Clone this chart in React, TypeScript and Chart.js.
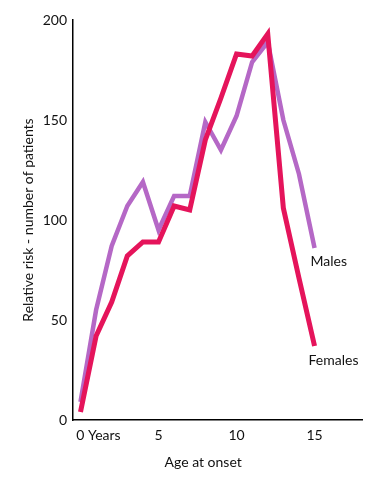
import React, { useEffect, useRef } from "react";
import { Chart, registerables } from "chart.js";

Chart.register(...registerables);

const years = [0, 1, 2, 3, 4, 5, 6, 7, 8, 9, 10, 11, 12, 13, 14, 15];
const males = [9, 55, 87, 107, 119, 95, 112, 112, 149, 135, 152, 179, 189, 150, 123, 86];
const females = [4, 42, 59, 82, 89, 89, 107, 105, 140, 161, 183, 182, 193, 106, 71, 37];
const xTicks = [0, 5, 10, 15];
const yTicks = [0, 50, 100, 150, 200];
const seriesNames = ["Males", "Females"];
const xTitle = "Age at onset";
const yTitle = "Relative risk - number of patients";

const FONT = "Lato";
const MALE_COLOR = "#b568c6";
const FEMALE_COLOR = "#e5145b";

function padLeftFor(text: string, prefix: string, font: string) {
  const c = document.createElement("canvas").getContext("2d")!;
  c.font = font;
  const rest = c.measureText(text.slice(prefix.length)).width;
  const sp = c.measureText(" ").width || 4;
  const n = Math.max(0, Math.round(rest / sp));
  return " ".repeat(n) + text;
}

const endLabels = {
  id: "endLabels",
  afterDatasetsDraw(chart: any) {
    const { ctx } = chart;
    const xs = chart.scales.x;
    const ys = chart.scales.y;
    const last = years.length - 1;
    ctx.save();
    ctx.font = `14px ${FONT}`;
    ctx.fillStyle = "#111";
    ctx.textBaseline = "middle";
    ctx.textAlign = "left";
    ctx.fillText(seriesNames[0], xs.getPixelForValue(years[last]) - 4, ys.getPixelForValue(males[last]) + 13);
    ctx.fillText(seriesNames[1], xs.getPixelForValue(years[last]) - 6, ys.getPixelForValue(females[last]) + 14);
    ctx.restore();
  },
};

export default function App() {
  const ref = useRef<HTMLCanvasElement>(null);
  useEffect(() => {
    if (!ref.current) return;
    const zeroLabel = padLeftFor("0 Years", "0", `14px ${FONT}`);
    const chart = new Chart(ref.current, {
      type: "line",
      data: {
        datasets: [
          {
            label: seriesNames[1],
            data: years.map((x, i) => ({ x, y: females[i] })),
            borderColor: FEMALE_COLOR,
            borderWidth: 5,
            pointRadius: 0,
            tension: 0,
            borderJoinStyle: "miter",
            borderCapStyle: "butt",
            order: 1,
          },
          {
            label: seriesNames[0],
            data: years.map((x, i) => ({ x, y: males[i] })),
            borderColor: MALE_COLOR,
            borderWidth: 4.5,
            pointRadius: 0,
            tension: 0,
            borderJoinStyle: "miter",
            borderCapStyle: "butt",
            order: 2,
          },
        ],
      },
      options: {
        responsive: false,
        animation: false,
        layout: { padding: { top: 20, right: 19, left: 0, bottom: 0 } },
        plugins: { legend: { display: false }, tooltip: { enabled: false } },
        scales: {
          x: {
            type: "linear",
            min: -0.48,
            max: 18.04,
            grid: { display: false, drawTicks: false },
            border: { display: true, color: "#000", width: 1.5 },
            afterBuildTicks: (s: any) => {
              s.ticks = xTicks.map((v) => ({ value: v }));
            },
            afterFit: (s: any) => {
              s.height = 61;
            },
            ticks: {
              autoSkip: false,
              maxRotation: 0,
              padding: 7,
              color: "#111",
              font: { family: FONT, size: 14 },
              callback: (v: any) => (v === 0 ? zeroLabel : String(v)),
            },
            title: {
              display: true,
              text: xTitle + "        ",
              color: "#111",
              font: { family: FONT, size: 14 },
              padding: { top: 0, bottom: 10 },
            },
          },
          y: {
            type: "linear",
            min: 0,
            max: 200,
            grid: { display: false, drawTicks: false },
            border: { display: true, color: "#000", width: 1.5 },
            afterBuildTicks: (s: any) => {
              s.ticks = yTicks.map((v) => ({ value: v }));
            },
            afterFit: (s: any) => {
              s.width = 73;
            },
            ticks: {
              autoSkip: false,
              padding: 6,
              color: "#111",
              font: { family: FONT, size: 14 },
            },
            title: {
              display: true,
              text: yTitle,
              color: "#111",
              font: { family: FONT, size: 14 },
              padding: { top: 20, bottom: 0 },
            },
          },
        },
      },
      plugins: [endLabels],
    });
    return () => chart.destroy();
  }, []);
  return (
    <div style={{ position: "absolute", left: 0, top: 0, width: 381, height: 481, background: "#fff" }}>
      <canvas ref={ref} width={381} height={481} style={{ width: 381, height: 481, display: "block" }} />
    </div>
  );
}
